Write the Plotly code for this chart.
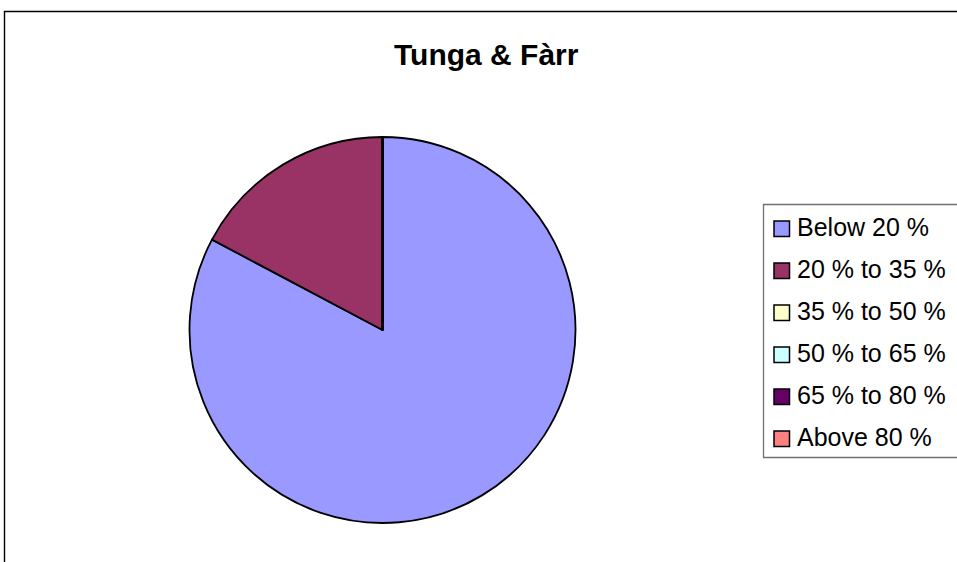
import plotly.graph_objects as go

# Share of sites in each band
categories = ["Below 20 %", "20 % to 35 %", "35 % to 50 %",
              "50 % to 65 %", "65 % to 80 %", "Above 80 %"]
counts = [24, 5, 0, 0, 0, 0]
colors = ["#9999FF", "#993366", "#FFFFCC", "#CCFFFF", "#660066", "#FF8080"]
title_text = "Tunga & Fàrr"

W, H = 957, 562
FONT = "Liberation Sans, Arial, sans-serif"

def px(x):
    return x / W

def py(y):
    return 1 - y / H

fig = go.Figure(go.Pie(
    labels=categories,
    values=counts,
    sort=False,
    direction="clockwise",
    rotation=0,
    textinfo="none",
    marker=dict(colors=colors, line=dict(color="black", width=1.8)),
    domain=dict(x=[px(189), px(576)], y=[py(523), py(137)]),
    showlegend=False,
))

shapes = [
    # chart frame
    dict(type="rect", xref="paper", yref="paper",
         x0=px(4.5), x1=px(W + 10), y0=py(H + 10), y1=py(11.5),
         line=dict(color="black", width=1.4), fillcolor="rgba(0,0,0,0)"),
    # legend box
    dict(type="rect", xref="paper", yref="paper",
         x0=px(763.5), x1=px(W + 10), y0=py(457.5), y1=py(204.5),
         line=dict(color="#707070", width=1.3), fillcolor="white"),
]
annotations = [
    dict(text="<b>" + title_text + "</b>", xref="paper", yref="paper",
         x=px(486), y=py(55), xanchor="center", yanchor="middle",
         showarrow=False, font=dict(family=FONT, size=30, color="black")),
]

# legend entries: swatch + label, one row per category
row0, step = 227, 42
for i, (lab, col) in enumerate(zip(categories, colors)):
    yc = row0 + i * step
    shapes.append(dict(type="rect", xref="paper", yref="paper",
                       x0=px(774), x1=px(789.5), y0=py(yc + 9.5), y1=py(yc - 6),
                       line=dict(color="black", width=1.5), fillcolor=col))
    annotations.append(dict(text=lab, xref="paper", yref="paper",
                            x=px(795), y=py(yc), xanchor="left", yanchor="middle",
                            showarrow=False,
                            font=dict(family=FONT, size=25, color="black")))

fig.update_layout(
    width=W, height=H,
    margin=dict(l=0, r=0, t=0, b=0),
    paper_bgcolor="white",
    plot_bgcolor="white",
    shapes=shapes,
    annotations=annotations,
)

fig.write_html("out.html")
